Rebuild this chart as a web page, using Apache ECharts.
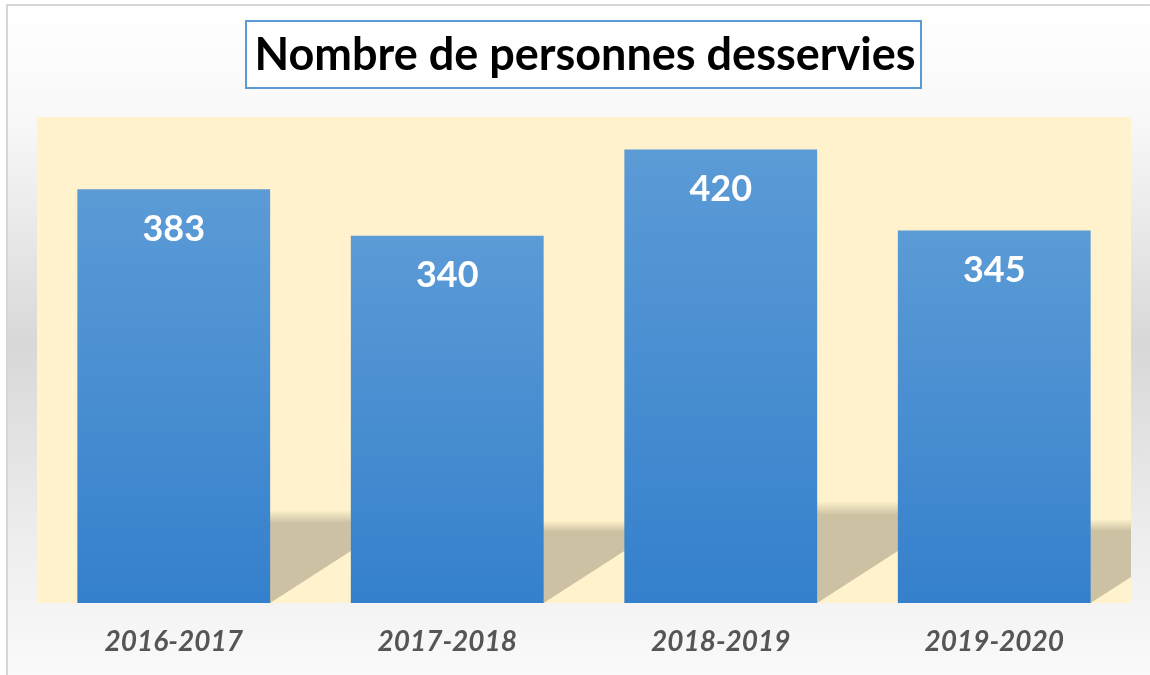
<!DOCTYPE html>
<html>
<head>
<meta charset="utf-8">
<script src="https://cdn.jsdelivr.net/npm/echarts@6/dist/echarts.min.js"></script>
<style>
  html, body { margin: 0; padding: 0; background: #ffffff; }
  #chart { width: 1150px; height: 675px; }
</style>
</head>
<body>
<div id="chart"></div>
<script>
const titleText = 'Nombre de personnes desservies';
const categories = ['2016-2017', '2017-2018', '2018-2019', '2019-2020'];
const served = [383, 340, 420, 345];

const chart = echarts.init(document.getElementById('chart'), null, { renderer: 'canvas' });

const shadowRatio = 0.225;
const shadowSlant = 1.55;

const option = {
  animation: false,
  graphic: [
    {
      type: 'rect',
      z: -10,
      silent: true,
      shape: { x: 7, y: 5, width: 1150, height: 680 },
      style: {
        fill: new echarts.graphic.LinearGradient(0, 0, 0, 1, [
          { offset: 0, color: '#ffffff' },
          { offset: 0.17, color: '#f8f8f8' },
          { offset: 0.5, color: '#d8d8d8' },
          { offset: 0.78, color: '#ededed' },
          { offset: 1, color: '#fbfbfb' }
        ]),
        stroke: '#d6d6d6',
        lineWidth: 2
      }
    },
    {
      type: 'group',
      z: 10,
      children: [
        {
          type: 'rect',
          shape: { x: 246, y: 21, width: 675, height: 67 },
          style: { fill: '#ffffff', stroke: '#5B9BD5', lineWidth: 2 }
        },
        {
          type: 'text',
          x: 585, y: 55,
          style: {
            text: titleText,
            fill: '#000000',
            font: 'bold 45px Lato',
            align: 'center',
            verticalAlign: 'middle'
          }
        }
      ]
    }
  ],
  grid: {
    left: 37, right: 19, top: 117, bottom: 72,
    show: true,
    backgroundColor: '#FFF2CC',
    borderWidth: 0
  },
  xAxis: {
    type: 'category',
    data: categories,
    axisLine: { show: false },
    axisTick: { show: false },
    axisLabel: {
      margin: 25,
      color: '#555555',
      fontSize: 28,
      fontWeight: 'bold',
      fontStyle: 'italic',
      fontFamily: 'Lato'
    }
  },
  yAxis: {
    type: 'value',
    min: 0,
    max: 450,
    show: false,
    splitLine: { show: false }
  },
  series: [
    {
      type: 'custom',
      z: 1,
      clip: true,
      silent: true,
      data: served.map((v, i) => [i, v]),
      renderItem: function (params, api) {
        const idx = api.value(0);
        const val = api.value(1);
        const base = api.coord([idx, 0]);
        const bw = api.size([1, 0])[0] * 0.705;
        const h = api.size([0, val])[1];
        const sh = h * shadowRatio;
        const dx = sh * shadowSlant;
        const x0 = base[0] - bw / 2;
        const x1 = base[0] + bw / 2;
        const y0 = base[1];
        return {
          type: 'polygon',
          shape: {
            points: [[x0, y0], [x1, y0], [x1 + dx, y0 - sh], [x0 + dx, y0 - sh]]
          },
          style: {
            fill: new echarts.graphic.LinearGradient(0, 0, 0, 1, [
              { offset: 0, color: 'rgba(204,194,163,0)' },
              { offset: 0.14, color: 'rgba(204,194,163,1)' },
              { offset: 1, color: 'rgba(204,194,163,1)' }
            ])
          }
        };
      }
    },
    {
      type: 'bar',
      z: 2,
      data: served,
      barCategoryGap: '29.5%',
      itemStyle: {
        color: new echarts.graphic.LinearGradient(0, 0, 0, 1, [
          { offset: 0, color: '#5B9BD6' },
          { offset: 1, color: '#3580CC' }
        ])
      },
      label: {
        show: true,
        position: 'insideTop',
        distance: 22,
        color: '#ffffff',
        fontSize: 36,
        fontWeight: 'bold',
        fontFamily: 'Lato'
      }
    }
  ]
};

chart.setOption(option);
</script>
</body>
</html>
